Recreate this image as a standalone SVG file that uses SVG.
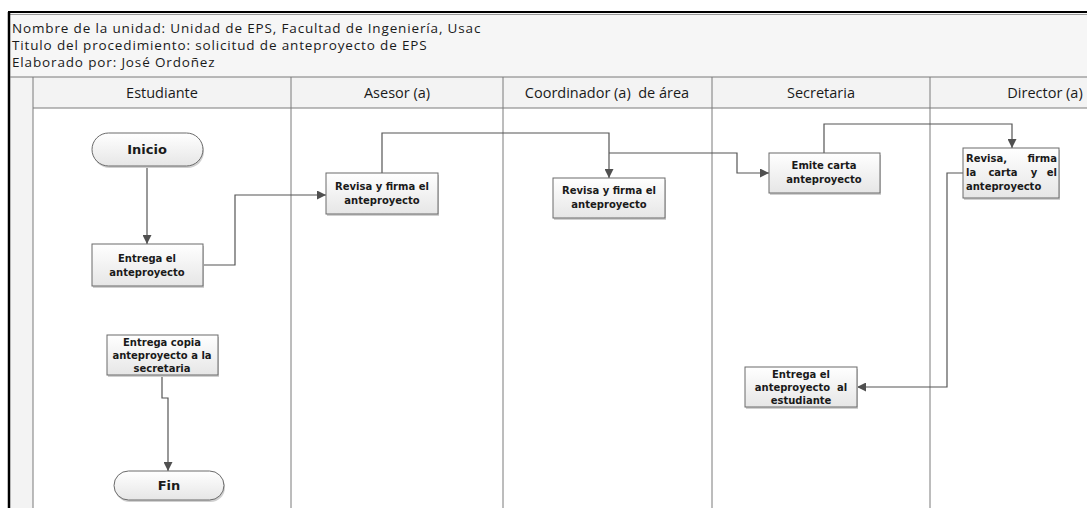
<svg xmlns="http://www.w3.org/2000/svg" width="1087" height="508" viewBox="0 0 1087 508">
<defs>
<linearGradient id="boxg" x1="0" y1="0" x2="0" y2="1">
<stop offset="0" stop-color="#ffffff"/>
<stop offset="1" stop-color="#e6e6e6"/>
</linearGradient>
<marker id="arr" viewBox="0 0 10 10" refX="10" refY="5" markerWidth="9" markerHeight="9" markerUnits="userSpaceOnUse" orient="auto">
<path d="M0,0 L10,5 L0,10 z" fill="#505050"/>
</marker>
</defs>
<style>
.hdr{font-family:"Open Sans","Liberation Sans",sans-serif;font-size:13.5px;letter-spacing:0.85px;fill:#1a1a1a}
.lane{font-family:"Open Sans","Liberation Sans",sans-serif;font-size:14.5px;fill:#1a1a1a;text-anchor:middle}
.lline{stroke:#7a7a7a;stroke-width:1;fill:none}
.box{fill:url(#boxg);stroke:#6a6a6a;stroke-width:1}
.shadow{fill:#d0d0d0}
.bt{font-family:"DejaVu Sans","Verdana",sans-serif;font-weight:bold;font-size:10px;fill:#1a1a1a;text-anchor:middle}
.btl{font-family:"DejaVu Sans","Verdana",sans-serif;font-weight:bold;font-size:10px;fill:#1a1a1a;text-anchor:start}
.btr{font-family:"DejaVu Sans","Verdana",sans-serif;font-weight:bold;font-size:10px;fill:#1a1a1a;text-anchor:end}
.term{font-family:"DejaVu Sans","Verdana",sans-serif;font-weight:bold;font-size:13px;fill:#1a1a1a;text-anchor:middle}
.con{stroke:#555555;stroke-width:1.2;fill:none}
</style>
<rect width="1087" height="508" fill="#ffffff"/>
<g id="frame">
<rect x="9" y="13" width="1078" height="64" fill="#f6f6f6"/>
<rect x="9" y="77" width="1078" height="31" fill="#f3f3f3"/>
<rect x="9" y="77" width="24" height="431" fill="#f3f3f3"/>
<line x1="8" y1="12" x2="1087" y2="12" stroke="#000" stroke-width="2"/>
<line x1="9" y1="14.5" x2="1087" y2="14.5" stroke="#9a9a9a" stroke-width="1"/>
<line x1="9" y1="12" x2="9" y2="508" stroke="#000" stroke-width="2.5"/>
<line x1="10" y1="77" x2="1087" y2="77" class="lline"/>
<line x1="33" y1="108" x2="1087" y2="108" class="lline"/>
<line x1="33" y1="77" x2="33" y2="508" class="lline"/>
<line x1="291" y1="77" x2="291" y2="508" class="lline"/>
<line x1="503" y1="77" x2="503" y2="508" class="lline"/>
<line x1="712" y1="77" x2="712" y2="508" class="lline"/>
<line x1="930" y1="77" x2="930" y2="508" class="lline"/>
<text class="hdr" x="12" y="33">Nombre de la unidad: Unidad de EPS, Facultad de Ingeniería, Usac</text>
<text class="hdr" x="12" y="50">Titulo del procedimiento: solicitud de anteproyecto de EPS</text>
<text class="hdr" x="12" y="67">Elaborado por: José Ordoñez</text>
<text class="lane" x="162" y="98">Estudiante</text>
<text class="lane" x="397" y="98">Asesor (a)</text>
<text class="lane" x="607" y="98" xml:space="preserve">Coordinador (a)  de área</text>
<text class="lane" x="821" y="98">Secretaria</text>
<text class="lane" x="1045" y="98">Director (a)</text>
</g>
<g id="connectors">
<polyline class="con" points="147,166 147,244" marker-end="url(#arr)"/>
<polyline class="con" points="203,265 235,265 235,195 326,195" marker-end="url(#arr)"/>
<polyline class="con" points="382,173 382,133 609,133 609,178" marker-end="url(#arr)"/>
<polyline class="con" points="609,153 737,153 737,173 769,173" marker-end="url(#arr)"/>
<polyline class="con" points="824,153 824,124 1012,124 1012,148" marker-end="url(#arr)"/>
<polyline class="con" points="963,173 947,173 947,387 857,387" marker-end="url(#arr)"/>
<polyline class="con" points="162,375 162,398 168,398 168,471" marker-end="url(#arr)"/>
</g>
<g id="inicio">
<rect x="93" y="135" width="111" height="33" rx="16.5" class="shadow"/>
<rect x="92" y="133" width="111" height="33" rx="16.5" class="box"/>
<text class="term" x="147" y="154">Inicio</text>
</g>
<g id="entrega-anteproyecto">
<rect x="93" y="246" width="111" height="42" class="shadow"/>
<rect x="92" y="244" width="111" height="42" class="box"/>
<text class="bt" x="147" y="262">Entrega el</text>
<text class="bt" x="147" y="276">anteproyecto</text>
</g>
<g id="revisa-asesor">
<rect x="327" y="175" width="112" height="41" class="shadow"/>
<rect x="326" y="173" width="112" height="41" class="box"/>
<text class="bt" x="382" y="190">Revisa y firma el</text>
<text class="bt" x="382" y="204">anteproyecto</text>
</g>
<g id="revisa-coordinador">
<rect x="554" y="180" width="112" height="40" class="shadow"/>
<rect x="553" y="178" width="112" height="40" class="box"/>
<text class="bt" x="609" y="194">Revisa y firma el</text>
<text class="bt" x="609" y="208">anteproyecto</text>
</g>
<g id="emite-carta">
<rect x="770" y="155" width="111" height="40" class="shadow"/>
<rect x="769" y="153" width="111" height="40" class="box"/>
<text class="bt" x="824" y="169">Emite carta</text>
<text class="bt" x="824" y="183">anteproyecto</text>
</g>
<g id="revisa-director">
<rect x="964" y="150" width="96" height="50" class="shadow"/>
<rect x="963" y="148" width="96" height="50" class="box"/>
<text class="btl" x="966" y="162">Revisa,</text>
<text class="btr" x="1057" y="162">firma</text>
<text class="btl" x="966" y="176">la</text>
<text class="bt" x="1003" y="176">carta</text>
<text class="bt" x="1034" y="176">y</text>
<text class="btr" x="1057" y="176">el</text>
<text class="btl" x="966" y="190">anteproyecto</text>
</g>
<g id="entrega-estudiante">
<rect x="746" y="369" width="112" height="40" class="shadow"/>
<rect x="745" y="367" width="112" height="40" class="box"/>
<text class="bt" x="801" y="378">Entrega el</text>
<text class="bt" x="801" y="391" xml:space="preserve">anteproyecto  al</text>
<text class="bt" x="801" y="404">estudiante</text>
</g>
<g id="entrega-copia">
<rect x="108" y="337" width="111" height="40" class="shadow"/>
<rect x="107" y="335" width="111" height="40" class="box"/>
<text class="bt" x="162" y="346">Entrega copia</text>
<text class="bt" x="162" y="359">anteproyecto a la</text>
<text class="bt" x="162" y="372">secretaria</text>
</g>
<g id="fin">
<rect x="115" y="473" width="110" height="29" rx="14.5" class="shadow"/>
<rect x="114" y="471" width="110" height="29" rx="14.5" class="box"/>
<text class="term" x="169" y="490">Fin</text>
</g>
</svg>
